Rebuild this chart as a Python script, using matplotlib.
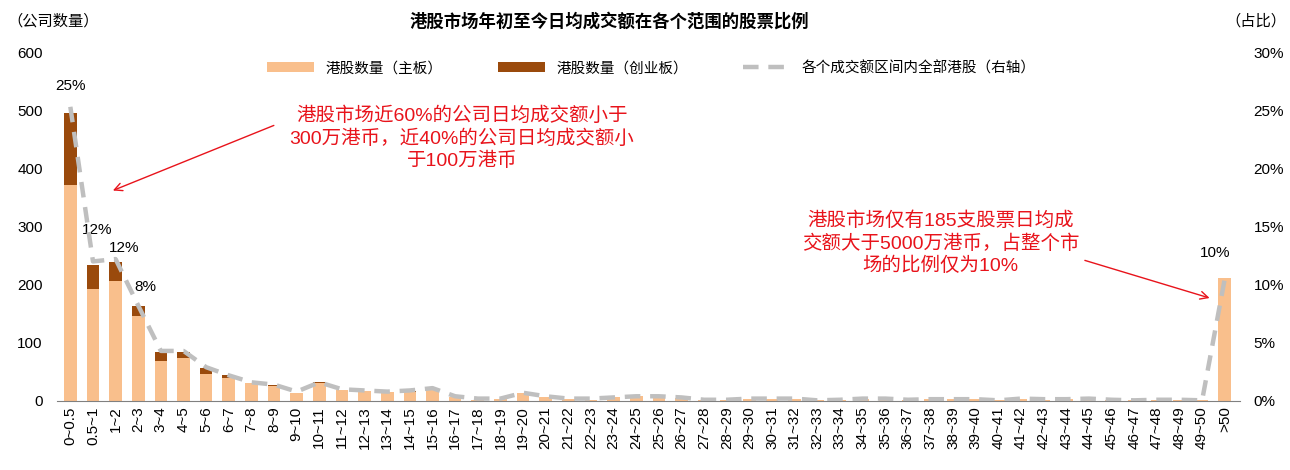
import numpy as np
import matplotlib
matplotlib.use("Agg")
import matplotlib.pyplot as plt

plt.rcParams['font.family'] = ['Liberation Sans', 'Noto Sans CJK SC', 'DejaVu Sans']

# categories: average daily turnover range (HK$ million)
ranges = ['0~0.5', '0.5~1'] + ['%d~%d' % (i, i + 1) for i in range(1, 50)] + ['>50']

main_board = [372, 193, 206, 146, 69, 74, 46, 39, 30, 26,
              13, 31, 18, 17, 15, 16, 23, 7, 2, 3,
              13, 6, 3, 1, 6, 8, 8, 5, 2, 1,
              3, 4, 4, 1, 2, 3, 4, 2, 3, 3,
              3, 1, 4, 2, 3, 4, 2, 1, 2, 1,
              1, 211]
gem_board = [123, 40, 33, 17, 15, 11, 11, 5, 1, 2,
             1, 1, 1, 0, 0, 1, 0, 0, 0, 0,
             0, 0, 0, 0, 0, 0, 0, 0, 0, 0,
             0, 0, 0, 0, 0, 0, 0, 0, 0, 0,
             0, 0, 0, 0, 0, 0, 0, 0, 0, 0,
             0, 0]
share_pct = [25.3, 12.0, 12.2, 8.2, 4.3, 4.3, 2.9, 2.2, 1.6, 1.4,
             0.8, 1.6, 1.0, 0.9, 0.8, 0.9, 1.1, 0.4, 0.2, 0.2,
             0.7, 0.4, 0.2, 0.2, 0.3, 0.4, 0.4, 0.3, 0.1, 0.1,
             0.2, 0.2, 0.2, 0.05, 0.1, 0.2, 0.2, 0.1, 0.15, 0.15,
             0.15, 0.05, 0.2, 0.15, 0.15, 0.2, 0.1, 0.05, 0.1, 0.1,
             0.05, 10.5]

# labelled points and where their text sits (pixel offset from the point)
pct_labels = {0: '25%', 1: '12%', 2: '12%', 3: '8%', 51: '10%'}
pct_offsets = {0: (0, 21), 1: (4, 31), 2: (9, 11), 3: (7, 19), 51: (-10, 26)}

light = '#F9BF8C'
dark = '#9A4A0C'
grey = '#BFBFBF'
red = '#E8131B'

x = np.arange(len(ranges))
fig = plt.figure(figsize=(12.9, 4.7), dpi=100)
ax = fig.add_axes([0.044, 0.147, 0.917, 0.742])
ax2 = ax.twinx()

b1 = ax.bar(x, main_board, width=0.56, color=light, label='港股数量（主板）', zorder=2)
b2 = ax.bar(x, gem_board, width=0.56, bottom=main_board, color=dark,
            label='港股数量（创业板）', zorder=2)
ln, = ax2.plot(x, share_pct, color=grey, lw=3.2, dashes=(3.5, 2.2),
               label='各个成交额区间内全部港股（右轴）', zorder=5)

ax.set_ylim(0, 600)
ax.set_yticks(range(0, 601, 100))
ax2.set_ylim(0, 30)
ax2.set_yticks(range(0, 31, 5))
ax2.set_yticklabels(['%d%%' % v for v in range(0, 31, 5)])
ax.set_xlim(-0.6, 51.66)
ax.set_xticks(x)
ax.set_xticklabels(ranges, rotation=90, fontsize=10.5)

for a in (ax, ax2):
    for s in ('top', 'left', 'right'):
        a.spines[s].set_visible(False)
    a.tick_params(length=0, labelsize=11)
ax2.spines['bottom'].set_visible(False)
ax.spines['bottom'].set_color('#808080')
ax.tick_params(axis='y', pad=10)
ax2.tick_params(axis='y', pad=10)
ax.tick_params(axis='x', pad=4)
ax2.patch.set_visible(False)

for i, t in pct_labels.items():
    ax2.annotate(t, (x[i], share_pct[i]), xytext=pct_offsets[i], textcoords='offset pixels',
                 ha='center', va='center', fontsize=11)

fig.text(0.472, 0.955, '港股市场年初至今日均成交额在各个范围的股票比例', ha='center', va='center',
         fontsize=12.5, fontweight='bold', family=['Noto Sans CJK SC'])
fig.text(0.006, 0.955, '（公司数量）', ha='left', va='center', fontsize=11,
         family=['Noto Sans CJK SC'])
fig.text(0.997, 0.955, '（占比）', ha='right', va='center', fontsize=11,
         family=['Noto Sans CJK SC'])

fig.legend(handles=[b1, b2, ln], loc='center', bbox_to_anchor=(0.505, 0.855), ncol=3,
           frameon=False, handlelength=3.2, columnspacing=3.8,
           prop={'family': ['Noto Sans CJK SC'], 'size': 10.5})

ax.annotate('港股市场近60%的公司日均成交额小于\n300万港币，近40%的公司日均成交额小\n于100万港币',
            xy=(1.88, 362), xytext=(17.3, 452), ha='center', va='center', color=red,
            fontsize=14, linespacing=1.3, family=['Liberation Sans', 'Noto Sans CJK SC'],
            arrowprops=dict(arrowstyle='->', color=red, lw=1, shrinkA=10, shrinkB=0,
                            relpos=(0.0, 0.8)))
ax.annotate('港股市场仅有185支股票日均成\n交额大于5000万港币，占整个市\n场的比例仅为10%',
            xy=(50.33, 177), xytext=(38.45, 271), ha='center', va='center', color=red,
            fontsize=14, linespacing=1.3, family=['Liberation Sans', 'Noto Sans CJK SC'],
            arrowprops=dict(arrowstyle='->', color=red, lw=1, shrinkA=2, shrinkB=0,
                            relpos=(1.0, 0.26)))

fig.savefig('out.png', dpi=100)
